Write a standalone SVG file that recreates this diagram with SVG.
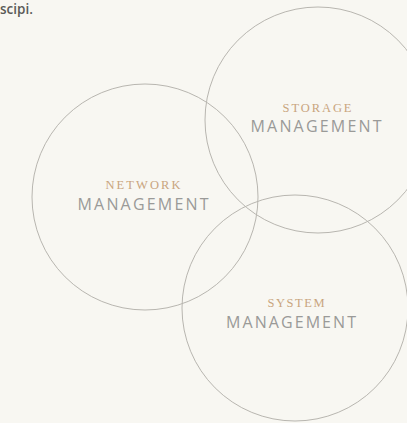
<svg xmlns="http://www.w3.org/2000/svg" width="407" height="423" viewBox="0 0 407 423">
<style>
.c{fill:none;stroke:#b8b6b0;stroke-width:1}
.t1{font-family:"Liberation Serif",serif;font-size:12.5px;fill:#c9a57e;text-anchor:middle}
.t2{font-family:"Open Sans","Liberation Sans",sans-serif;font-size:16px;fill:#9a9a98;text-anchor:middle}
.hd{font-family:"Open Sans","Liberation Sans",sans-serif;font-size:13.5px;font-weight:600;fill:#5a5a58}
</style>
<rect width="407" height="423" fill="#f8f7f2"/>
<text class="hd" x="0" y="14">scipi.</text>
<g id="network">
<circle class="c" cx="145" cy="197" r="113"/>
<text class="t1" x="143" y="189" textLength="75" lengthAdjust="spacing">NETWORK</text>
<text class="t2" x="143" y="210" textLength="131" lengthAdjust="spacing">MANAGEMENT</text>
</g>
<g id="storage">
<circle class="c" cx="318" cy="120" r="113"/>
<text class="t1" x="317" y="112" textLength="69" lengthAdjust="spacing">STORAGE</text>
<text class="t2" x="316" y="132" textLength="131" lengthAdjust="spacing">MANAGEMENT</text>
</g>
<g id="system">
<circle class="c" cx="295" cy="308" r="113"/>
<text class="t1" x="296" y="307" textLength="57" lengthAdjust="spacing">SYSTEM</text>
<text class="t2" x="291" y="328" textLength="130" lengthAdjust="spacing">MANAGEMENT</text>
</g>
<g id="connectors"></g>
</svg>
